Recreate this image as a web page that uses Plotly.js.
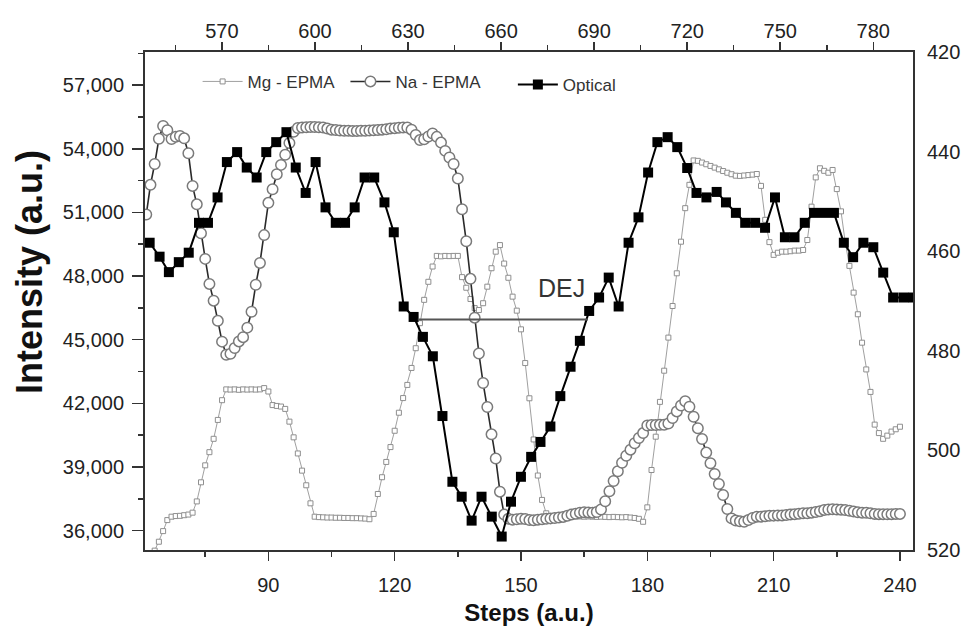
<!DOCTYPE html>
<html>
<head>
<meta charset="utf-8">
<script src="https://cdn.plot.ly/plotly-3.0.1.min.js"></script>
<style>html,body{margin:0;padding:0;background:#fff;}#chart{width:962px;height:626px;}</style>
</head>
<body>
<div id="chart"></div>
<script>
// ---- Data ----
const stepsNa = [61,62,63,64,65,66,67,68,69,70,71,72,73,74,75,76,77,78,79,80,81,82,83,84,85,86,87,88,89,90,91,92,93,94,95,96,97,98,99,100,101,102,103,104,105,106,107,108,109,110,111,112,113,114,115,116,117,118,119,120,121,122,123,124,125,126,127,128,129,130,131,132,133,134,135,136,137,138,139,140,141,142,143,144,145,146,147,148,149,150,151,152,153,154,155,156,157,158,159,160,161,162,163,164,165,166,167,168,169,170,171,172,173,174,175,176,177,178,179,180,181,182,183,184,185,186,187,188,189,190,191,192,193,194,195,196,197,198,199,200,201,202,203,204,205,206,207,208,209,210,211,212,213,214,215,216,217,218,219,220,221,222,223,224,225,226,227,228,229,230,231,232,233,234,235,236,237,238,239,240];
const naEPMA = [50900,52300,53280,54470,55070,54870,54460,54560,54600,54490,53790,52250,51380,50020,48810,47630,46840,45890,44910,44290,44340,44610,44920,45120,45570,46320,47590,48620,49930,51450,52090,52800,53240,53720,54270,54800,54980,55000,55010,55020,55020,55010,55000,54950,54900,54880,54860,54850,54850,54840,54840,54850,54850,54860,54870,54880,54900,54920,54950,54970,54990,55000,55000,54900,54650,54410,54450,54580,54720,54560,54290,53900,53590,53280,52600,51150,49640,47870,46040,44350,42960,41830,40540,39400,37840,36760,36560,36520,36540,36560,36550,36500,36490,36520,36540,36560,36580,36600,36620,36650,36700,36760,36800,36850,36870,36860,36850,36880,37000,37390,37860,38340,38800,39200,39530,39820,40120,40370,40600,40960,40980,40980,40990,40990,41050,41310,41620,41900,42100,41840,41370,40830,40320,39680,39180,38670,38200,37680,37020,36580,36480,36440,36420,36500,36600,36660,36660,36680,36700,36710,36720,36720,36740,36760,36780,36800,36820,36820,36850,36880,36920,36980,37000,37010,37000,36990,36970,36940,36900,36870,36850,36840,36820,36790,36780,36780,36770,36780,36790,36790];

const stepsMg = [63,64,65,66,67,68,69,70,71,72,73,74,75,76,77,78,79,80,81,82,83,84,85,86,87,88,89,90,91,92,93,94,95,96,97,98,99,100,101,102,103,104,105,106,107,108,109,110,111,112,113,114,115,116,117,118,119,120,121,122,123,124,125,126,127,128,129,130,131,132,133,134,135,136,137,138,139,140,141,142,143,144,145,146,147,148,149,150,151,152,153,154,155,156,157,158,159,160,161,162,163,164,165,166,167,168,169,170,171,172,173,174,175,176,177,178,179,180,181,182,183,184,185,186,187,188,189,190,191,192,193,194,195,196,197,198,199,200,201,202,203,204,205,206,207,208,209,210,211,212,213,214,215,216,217,218,219,220,221,222,223,224,225,226,227,228,229,230,231,232,233,234,235,236,237,238,239,240];
const mgEPMA = [35060,35480,35980,36500,36660,36690,36700,36730,36760,36850,37380,38280,39080,39700,40330,41220,42150,42660,42650,42660,42640,42660,42650,42660,42650,42660,42720,42560,41920,41880,41850,41740,41140,40400,39640,38830,38140,37290,36660,36640,36630,36620,36620,36610,36610,36600,36600,36590,36590,36580,36570,36540,36790,37730,38520,39240,39940,40710,41560,42250,42870,43670,44600,45780,46880,47730,48450,48950,48930,48950,48940,48950,48950,47950,47450,46920,46490,46400,46720,47500,48370,49150,49460,48590,47920,47030,46370,45490,43900,42240,40300,38600,37450,36820,36680,36670,36680,36670,36660,36670,36680,36670,36660,36670,36660,36650,36660,36650,36640,36650,36640,36630,36640,36620,36600,36560,36420,37100,38860,40430,42070,43540,45100,46590,48130,49620,51200,52300,53450,53430,53350,53270,53190,53110,53030,52950,52870,52800,52730,52720,52740,52760,52780,52810,52250,50650,49600,49000,49100,49150,49150,49170,49200,49200,49230,49700,51270,52650,53080,52960,52870,53000,52100,51050,49600,48480,47220,46200,44860,43600,42540,41000,40600,40330,40480,40670,40780,40900];

// Optical: top axis (wavelength-like units) and right (reversed) axis
const opticalX = [546.7,549.9,552.9,556.1,559.3,562.6,565.5,568.6,571.6,574.9,578.0,581.2,584.3,587.5,590.8,593.8,597.0,600.2,603.4,606.7,609.7,612.8,616.0,619.1,622.4,625.4,628.6,631.8,634.8,638.0,641.1,644.3,647.3,650.5,653.7,657.0,660.2,663.2,666.4,669.7,672.7,675.9,679.1,682.4,685.4,688.4,691.6,694.7,697.9,701.1,704.3,707.4,710.4,713.7,716.8,720.0,723.0,726.2,729.5,732.5,735.7,738.7,741.9,745.1,748.3,751.5,754.6,757.9,760.9,764.1,767.3,770.5,773.5,776.8,780.0,783.2,786.4,789.7,792.8];
const opticalY = [458.3,461.1,464.2,462.2,460.3,454.3,454.3,449.2,442.1,440.1,443.2,445.2,440.1,438.1,436.1,443.2,448.3,442.1,451.2,454.3,454.3,451.2,445.2,445.2,450.2,456.2,471.1,473.2,477.2,481.1,493.1,506.3,509.3,514.1,509.3,513.3,517.3,510.3,505.3,501.3,498.3,495.2,489.1,483.2,478.0,472.0,469.3,465.3,471.1,458.3,453.2,444.2,438.1,437.1,439.1,443.3,448.3,449.2,448.1,450.2,452.3,454.3,454.3,455.3,449.2,457.2,457.2,454.3,452.3,452.3,452.3,458.3,461.2,458.3,459.2,464.3,469.3,469.3,469.3];

const seriesNames = ['Mg - EPMA', 'Na - EPMA', 'Optical'];
const dejLabel = 'DEJ';
const dejLine = {x0: 125.5, x1: 165.9, y: 45950};
const dejText = {x: 159.7, y: 47450};

// ---- Plot ----
const FONT = 'Arial, "Liberation Sans", Helvetica, sans-serif';

const traces = [
  {
    name: seriesNames[0], x: stepsMg, y: mgEPMA, xaxis: 'x', yaxis: 'y',
    type: 'scatter', mode: 'lines+markers',
    line: {color: '#a0a0a0', width: 1},
    marker: {symbol: 'square', size: 5, color: '#ffffff', line: {color: '#8f8f8f', width: 1}},
    legend: 'legend'
  },
  {
    name: seriesNames[1], x: stepsNa, y: naEPMA, xaxis: 'x', yaxis: 'y',
    type: 'scatter', mode: 'lines+markers',
    line: {color: '#2a2a2a', width: 1.6},
    marker: {symbol: 'circle', size: 10.5, color: '#ffffff', line: {color: '#7a7a7a', width: 1.5}},
    legend: 'legend2'
  },
  {
    name: seriesNames[2], x: opticalX, y: opticalY, xaxis: 'x2', yaxis: 'y2',
    type: 'scatter', mode: 'lines+markers',
    line: {color: '#000000', width: 2},
    marker: {symbol: 'square', size: 10, color: '#000000', line: {color: '#000000', width: 0}},
    legend: 'legend3'
  }
];

const axisCommon = {
  showline: true, linecolor: '#333', linewidth: 2,
  showgrid: false, zeroline: false,
  ticks: 'outside', tickcolor: '#333', tickwidth: 1.5, ticklen: 9,
  tickfont: {family: FONT, size: 20, color: '#222'},
  minor: {ticks: 'outside', ticklen: 5, tickcolor: '#333', tickwidth: 1.5, showgrid: false}
};

const legendCommon = {
  orientation: 'h', bgcolor: 'rgba(0,0,0,0)', borderwidth: 0,
  font: {family: FONT, size: 17, color: '#333'},
  xanchor: 'left', yanchor: 'middle', itemwidth: 40, itemclick: false
};

const layout = {
  width: 962, height: 626,
  margin: {l: 145, r: 49, t: 52, b: 76},
  paper_bgcolor: '#fff', plot_bgcolor: '#fff',
  font: {family: FONT, color: '#222'},
  xaxis: Object.assign({}, axisCommon, {
    range: [60.7, 243.1], tickmode: 'linear', tick0: 0, dtick: 30,
    minor: Object.assign({}, axisCommon.minor, {tick0: 0, dtick: 15}),
    ticklabelstandoff: 7,
    title: {text: 'Steps (a.u.)', font: {family: FONT, size: 24, color: '#111', weight: 'bold'}, standoff: 11}
  }),
  yaxis: Object.assign({}, axisCommon, {
    range: [35090, 58560], tickmode: 'linear', tick0: 0, dtick: 3000, tickformat: ',d',
    minor: Object.assign({}, axisCommon.minor, {tick0: 0, dtick: 1500}),
    ticklen: 11, ticklabelstandoff: 4
  }),
  xaxis2: Object.assign({}, axisCommon, {
    overlaying: 'x', side: 'top', anchor: 'y2',
    range: [545.2, 792.8], tickmode: 'linear', tick0: 0, dtick: 30,
    minor: Object.assign({}, axisCommon.minor, {tick0: 0, dtick: 15}),
    ticklen: 8, ticklabelstandoff: -4
  }),
  yaxis2: Object.assign({}, axisCommon, {
    overlaying: 'y', side: 'right', anchor: 'x2',
    range: [520, 420], tickmode: 'linear', tick0: 0, dtick: 20,
    ticks: '', ticklabelstandoff: 8,
    minor: {ticks: ''}
  }),
  legend: Object.assign({}, legendCommon, {x: 0.0685, y: 0.94}),
  legend2: Object.assign({}, legendCommon, {x: 0.261, y: 0.94}),
  legend3: Object.assign({}, legendCommon, {x: 0.479, y: 0.934}),
  shapes: [
    {type: 'line', xref: 'x', yref: 'y', x0: dejLine.x0, x1: dejLine.x1, y0: dejLine.y, y1: dejLine.y,
     line: {color: '#555', width: 2}, layer: 'above'}
  ],
  annotations: [
    {text: 'Intensity (a.u.)', xref: 'paper', yref: 'paper', x: -0.1505, y: 0.559,
     textangle: -90, showarrow: false, xanchor: 'center', yanchor: 'middle',
     font: {family: FONT, size: 36, color: '#111', weight: 'bold'}},
    {text: dejLabel, xref: 'x', yref: 'y', x: dejText.x, y: dejText.y, showarrow: false,
     xanchor: 'center', yanchor: 'middle', font: {family: FONT, size: 25, color: '#333'}}
  ],
  showlegend: true
};

Plotly.newPlot('chart', traces, layout, {staticPlot: true, displayModeBar: false});
</script>
</body>
</html>
